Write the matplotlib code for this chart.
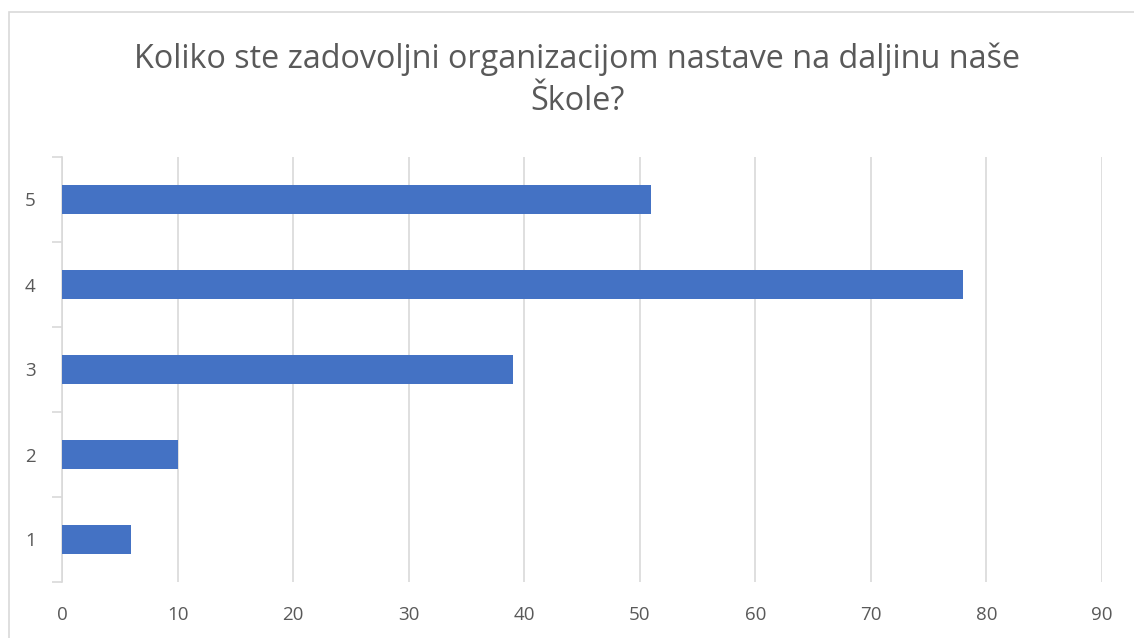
import matplotlib.pyplot as plt
import matplotlib.patches as mpatches

categories = ["1", "2", "3", "4", "5"]
values = [6, 10, 39, 78, 51]
x_ticks = [0, 10, 20, 30, 40, 50, 60, 70, 80, 90]
title = "Koliko ste zadovoljni organizacijom nastave na daljinu naše\nŠkole?"

BAR_COLOR = "#4472C4"
TEXT_COLOR = "#595959"
GRID_COLOR = "#D9D9D9"

plt.rcParams['font.family'] = ['Open Sans', 'DejaVu Sans']

fig = plt.figure(figsize=(11.34, 6.38), dpi=100)
ax = fig.add_axes([62 / 1134, 1 - 582 / 638, (1102 - 62) / 1134, (582 - 157) / 638])

pos = list(range(len(categories)))
ax.barh(pos, values, height=0.35, color=BAR_COLOR, zorder=3)

ax.set_xlim(0, 90)
ax.set_ylim(-0.5, len(categories) - 0.5)
ax.set_xticks(x_ticks)
ax.set_xticklabels([str(t) for t in x_ticks])
ax.set_yticks(pos)
ax.set_yticklabels(categories)
ax.tick_params(axis='x', length=0, pad=17, labelsize=13.5, colors=TEXT_COLOR)
ax.tick_params(axis='y', length=0, pad=19, labelsize=13.5, colors=TEXT_COLOR)

# category boundary ticks on the y axis
ax.set_yticks([p - 0.5 for p in range(len(categories) + 1)], minor=True)
ax.tick_params(axis='y', which='minor', length=7, width=1.2, color=GRID_COLOR, direction='out')

ax.grid(axis='x', color=GRID_COLOR, linewidth=1.2, zorder=0)
for s in ['top', 'right', 'bottom']:
    ax.spines[s].set_visible(False)
ax.spines['left'].set_color(GRID_COLOR)
ax.spines['left'].set_linewidth(1.2)

fig.text(577 / 1134, 1 - 80 / 638, title, ha='center', va='center',
         fontsize=23.3, color=TEXT_COLOR, linespacing=1.35)

# chart area border (left and top edges visible)
fig.add_artist(mpatches.Rectangle((9 / 1134, -0.1), 1.2, 1.1 - 12 / 638,
                                  transform=fig.transFigure, fill=False,
                                  edgecolor=GRID_COLOR, linewidth=1.2))

fig.savefig("out.png", dpi=100)
